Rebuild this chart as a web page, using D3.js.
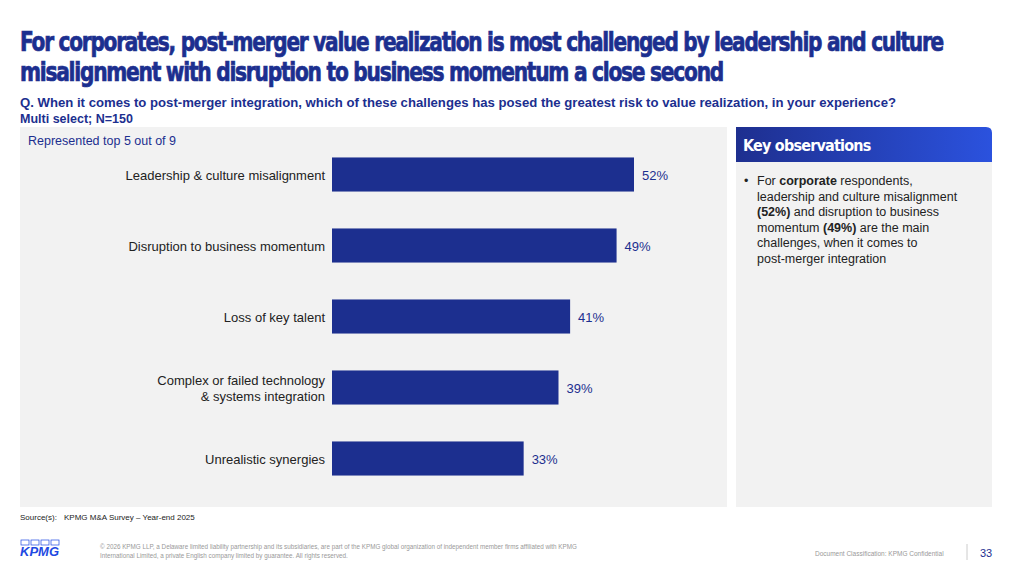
<!DOCTYPE html>
<meta charset="utf-8">
<style>
body { margin: 0; background: white; font-family: "Liberation Sans", Arial, sans-serif; }
</style>
<script src="https://d3js.org/d3.v7.min.js"></script>
<body>
<script>
const categories = [
  ['Leadership & culture misalignment'],
  ['Disruption to business momentum'],
  ['Loss of key talent'],
  ['Complex or failed technology', '& systems integration'],
  ['Unrealistic synergies']
];
const values = [52, 49, 41, 39, 33];
const valueLabels = ['52%', '49%', '41%', '39%', '33%'];

const W = 1024, H = 571;
const navy = '#1c2f8f';
const svg = d3.select('body').append('svg').attr('width', W).attr('height', H);

// title
const title = ['For corporates, post-merger value realization is most challenged by leadership and culture',
  'misalignment with disruption to business momentum a close second'];
svg.selectAll('.title').data(title).enter().append('text')
  .attr('x', 20).attr('y', (d, i) => 51 + i * 30)
  .attr('fill', navy).attr('stroke', navy).attr('stroke-width', 0.7)
  .style('font-family', '"DejaVu Sans Condensed", "DejaVu Sans", sans-serif')
  .style('font-weight', 'bold').style('font-size', '27px').style('letter-spacing', '-1.5px')
  .attr('textLength', (d, i) => i == 0 ? 923 : 703).attr('lengthAdjust', 'spacingAndGlyphs')
  .text(d => d);

svg.append('text').attr('x', 20).attr('y', 107).attr('fill', navy)
  .style('font-size', '12.5px').style('font-weight', 'bold')
  .attr('textLength', 876).attr('lengthAdjust', 'spacingAndGlyphs')
  .text('Q. When it comes to post-merger integration, which of these challenges has posed the greatest risk to value realization, in your experience?');
svg.append('text').attr('x', 20).attr('y', 123).attr('fill', navy)
  .style('font-size', '12.5px').style('font-weight', 'bold')
  .text('Multi select; N=150');

// chart panel
svg.append('rect').attr('x', 20).attr('y', 127).attr('width', 707).attr('height', 380).attr('fill', '#f2f2f2');
svg.append('text').attr('x', 28).attr('y', 145).attr('fill', navy).style('font-size', '12.5px')
  .text('Represented top 5 out of 9');

const x = d3.scaleLinear().domain([0, 52]).range([332, 634]);
const y = d3.scaleBand().domain(d3.range(values.length)).range([139, 494]).paddingInner(0.52).paddingOuter(0.26);

const g = svg.append('g');
g.selectAll('rect.bar').data(values).enter().append('rect')
  .attr('class', 'bar')
  .attr('x', x(0)).attr('y', (d, i) => y(i))
  .attr('width', d => x(d) - x(0)).attr('height', y.bandwidth())
  .attr('fill', navy);

g.selectAll('text.val').data(values).enter().append('text')
  .attr('x', d => x(d) + 8).attr('y', (d, i) => y(i) + y.bandwidth() / 2 + 5)
  .attr('fill', navy).style('font-size', '13px')
  .text((d, i) => valueLabels[i]);

categories.forEach((lines, i) => {
  const cy = y(i) + y.bandwidth() / 2;
  lines.forEach((l, j) => {
    g.append('text').attr('x', 325).attr('text-anchor', 'end')
      .attr('y', cy + 5 + (j - (lines.length - 1) / 2) * 16)
      .attr('fill', '#222').style('font-size', '13px').text(l);
  });
});

// key observations
const defs = svg.append('defs');
const grad = defs.append('linearGradient').attr('id', 'kg');
grad.append('stop').attr('offset', '0%').attr('stop-color', '#1e2f8f');
grad.append('stop').attr('offset', '100%').attr('stop-color', '#2b52de');
svg.append('rect').attr('x', 736).attr('y', 162).attr('width', 256).attr('height', 345).attr('fill', '#f2f2f2');
svg.append('path').attr('d', 'M736,162 V127 H986 Q992,127 992,133 V162 Z').attr('fill', 'url(#kg)');
svg.append('text').attr('x', 743).attr('y', 151).attr('fill', 'white')
  .style('font-family', '"DejaVu Sans Condensed", sans-serif').style('font-weight', 'bold')
  .style('font-size', '16px').style('letter-spacing', '-0.8px').text('Key observations');

const obs = svg.append('text').attr('fill', '#222').style('font-size', '12.5px');
svg.append('text').attr('x', 744).attr('y', 185).attr('fill', '#222').style('font-size', '12.5px').text('•');
const obsLines = [
  [['For ', false], ['corporate', true], [' respondents,', false]],
  [['leadership and culture misalignment', false]],
  [['(52%)', true], [' and disruption to business', false]],
  [['momentum ', false], ['(49%)', true], [' are the main', false]],
  [['challenges, when it comes to', false]],
  [['post-merger integration', false]]
];
obsLines.forEach((line, i) => {
  const t = obs.append('tspan').attr('x', 757).attr('y', 185 + i * 15.5);
  line.forEach(([s, b]) => t.append('tspan').style('font-weight', b ? 'bold' : 'normal').text(s));
});

// footer
svg.append('text').attr('x', 20).attr('y', 520).attr('fill', '#222').style('font-size', '8px').text('Source(s):');
svg.append('text').attr('x', 64).attr('y', 520).attr('fill', '#222').style('font-size', '8px').text('KPMG M&A Survey – Year-end 2025');
svg.append('text').attr('x', 20).attr('y', 556).attr('fill', '#1e49e2')
  .style('font-weight', 'bold').style('font-style', 'italic').style('font-size', '13px').text('KPMG');
[0, 1, 2, 3].forEach(i => svg.append('rect').attr('x', 21 + i * 10).attr('y', 540).attr('width', 8).attr('height', 5)
  .attr('fill', 'none').attr('stroke', '#1e49e2').attr('stroke-width', 0.7));
svg.append('text').attr('x', 100).attr('y', 549).attr('fill', '#999').style('font-size', '6.3px')
  .text('© 2026 KPMG LLP, a Delaware limited liability partnership and its subsidiaries, are part of the KPMG global organization of independent member firms affiliated with KPMG');
svg.append('text').attr('x', 100).attr('y', 558).attr('fill', '#999').style('font-size', '6.3px')
  .text('International Limited, a private English company limited by guarantee. All rights reserved.');
svg.append('text').attr('x', 815).attr('y', 556).attr('fill', '#999').style('font-size', '6.5px')
  .text('Document Classification: KPMG Confidential');
svg.append('line').attr('x1', 967).attr('x2', 967).attr('y1', 544).attr('y2', 560).attr('stroke', '#ccc');
svg.append('text').attr('x', 980).attr('y', 557).attr('fill', navy).style('font-size', '11px').text('33');
</script>
</body>
</html>
